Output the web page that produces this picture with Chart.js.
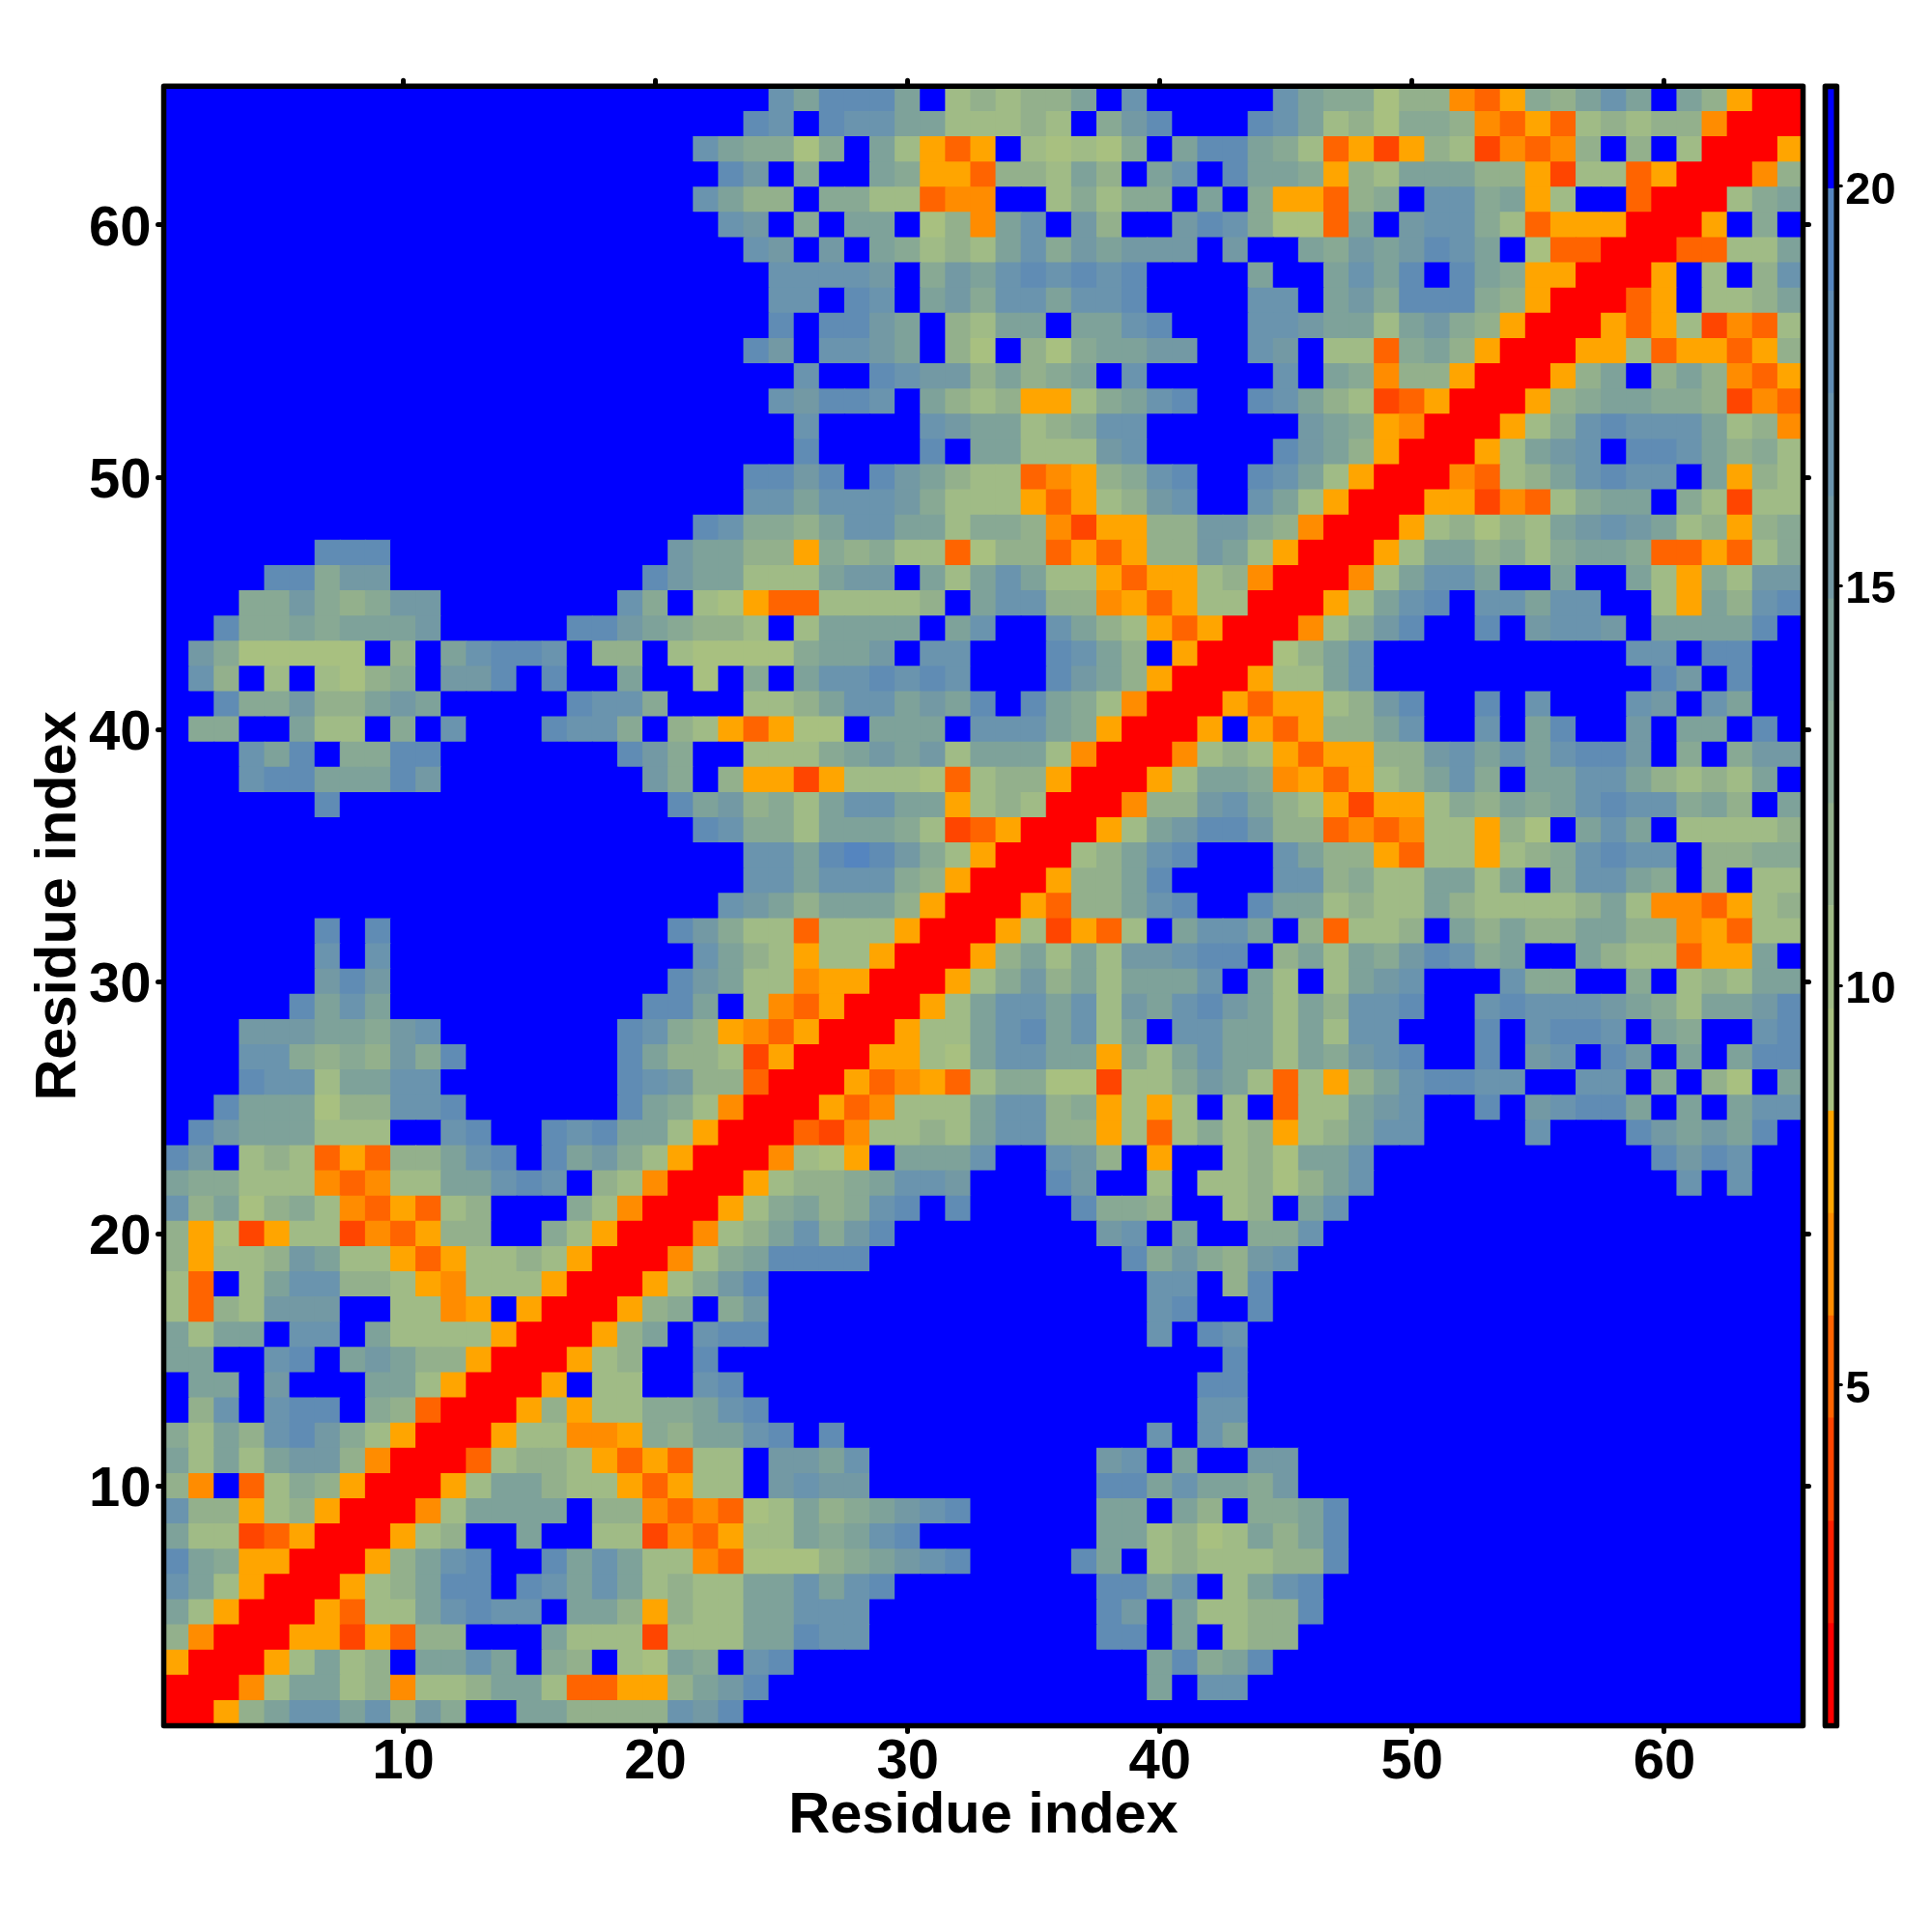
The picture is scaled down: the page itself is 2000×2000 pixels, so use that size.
<!DOCTYPE html>
<html>
<head>
<meta charset="utf-8">
<script src="https://cdn.jsdelivr.net/npm/chart.js@4/dist/chart.umd.min.js"></script>
<style>
  body { margin: 0; background: #fff; }
  canvas { position: absolute; top: 0; }
</style>
</head>
<body>
<canvas id="map" width="2000" height="2000" style="left:0"></canvas>
<canvas id="bar" width="140" height="2000" style="left:1860px"></canvas>
<script>
// one string per row, residue 65 first; each char is a colour band (hex index into bandColors)
const rows = [
  'ffffffffff ffffffffff ffffcaddda f78788afcf ffffca9968 843598acaf a8500',
  'ffffffffff ffffffffff fffdcfdcca a77787f9bd fffdca7869 9843537878 84000',
  'ffffffffff ffffffffff fca9969fa7 535f76769f adda973525 8724348f8f 70005',
  'ffffffffff ffffffffff ffdbf9ffa9 553887a8fa cfdaa9587a aa88527735 00048',
  'ffffffffff ffffffffff fca88f9977 344ff79799 faf955389f cc9a57ff30 0079a',
  'ffffffffff ffffffffff ffcbf9faaf 684acfb8ff bdc9663afb cc97355500 05f9f',
  'ffffffffff ffffffffff fffcbfbfa9 787ac9babb bfbffa9bab dcaf633000 3377a',
  'ffffffffff ffffffffff ffffccccbf 9bacdcdcdf fffaffacad fda9550005 f7f8c',
  'ffffffffff ffffffffff ffffccfdcf ab9ccaccdf fffccfab9d dd98500035 f778a',
  'ffffffffff ffffffffff ffffdfddba f87aafaacd fffccbaa7a b985000535 72437',
  'ffffffffff ffffffffff fffdbfccba f86f869aab bffcbf7739 a850005573 55358',
  'ffffffffff ffffffffff fffffcffdc bb8a89afcf ffffcfa948 8500058af8 a8435',
  'ffffffffff ffffffffff ffffcbddcf a8785579ac dffdca8723 5000589aa9 98243',
  'ffffffffff ffffffffff fffffcffff cbaa789ccf fffffba954 000579cdcc ca784',
  'ffffffffff ffffffffff fffffdffff dfaa777bcf ffffdba850 0057abcfdd ca897',
  'ffffffffff ffffffffff fffddbdfdb a87734589c dffdca7500 04378acdcc fa587',
  'ffffffffff ffffffffff fffccacccb 977753578b cffca75000 5524379aaf 97277',
  'ffffffffff ffffffffff fdc998acca a799842558 8bb9840005 78687abcba 78589',
  'ffffffdddf ffffffffff baa8859897 7368835358 8ba7500057 aa8979aa93 35379',
  'ffffdd9bbf fffffffffd baa777abbf a7aca77535 578400047a ccaffaffa7 597bb',
  'fff99b989b bfffffffc9 f765337777 8facc88453 57700057ac dfccaccff7 5a8cd',
  'ffd99a9aaa bfffffddba 9887f7aaaa facffca875 35000479bd ffdfbccbfa aaadf',
  'fb966666f8 facddcf88f 766669aabf ccfffdca8f 500068acff ffffffffcc fddff',
  'fc8f7f7689 fbbdfdffaf f6f9faccdc dcfffdba85 000577acff fffffffffd bfdff',
  'ffd99b88ab afffffdcc9 fff778acca badfda9740 00535578bd ffdfcfffcb fcaff',
  'f99ffa77f9 fcfffdcc9f 8753566faa afccca9500 05f53588ac ffcfadffbf aafdf',
  'fffcadf99d dfffffffdb 9ff7779aba b7aaa74000 4787535588 bcacacddbf 9f9bb',
  'fffcddaaad bffffffffb 9f85525777 6378850005 7aa9453578 ac9faacca8 787af',
  'ffffffdfff ffffffffff dab897acca a578700048 8bca875255 798a9acdcc 9a8fa',
  'ffffffffff ffffffffff fdc997aaa9 723500057a bddb883434 77586facaf 77778',
  'ffffffffff ffffffffff fffccadedb 97500078ac dfffca8853 775789cdcc f8899',
  'ffffffffff ffffffffff fffccaccc9 85000588ad ffffcc8977 aa7af9cca9 f8f77',
  'ffffffffff ffffffffff ffcba8aaa8 50005388ac dffdaa7877 a877778a74 43578',
  'ffffffdfdf ffffffffff db97737775 000572537f accaf83778 fa8a88aa88 45377',
  'ffffffcfcf ffffffffff fca8757750 0058a7a7bb cddf8a7a9b dc9affa877 355af',
  'ffffffbdbf ffffffffff dba7745500 0579b8a7aa acfa7f7abc fffc99ff9f 787aa',
  'fffffdacaf fffffffffd daf7435000 57accac7ba cdba7a8ccd ffcdcccba9 7aabd',
  'fffbbbaa9b cfffffffdc 9854350005 77acdac7af ccaa7a7ccf ffdfcddcfa 9ffcd',
  'fffcc9898b 9dffffffda 8872500055 76accaa597 acaa7a9bcd ffdfbcfdbf afadd',
  'fffdcc7aac cfffffffdc b883000534 5379966277 9ba73758ac ddccffccf9 f86fa',
  'ffdaaa688c cdffffffda 9740005347 77acc89575 7f7f377abc ffdfbcddaf afacc',
  'fdbaaa777f fcdffdcdaa 7500032477 87acc88573 7978578acc ffffcfffdb abadf',
  'dbf7873538 8acdfdab97 50004765fa aacffcb8f5 ff786aacff fffffffffd bdcff',
  'a997774347 7aacdcf874 00057889ac cbfffdbff7 f77868acff ffffffffff cfcff',
  'c8a6897435 378fff9740 00579a89cd fdffffd998 ff78facfff ffffffffff fffff',
  '8562577243 588ff97500 0478ac9bdf fffffffbcf aff99cffff ffffffffff fffff',
  '85778ba775 3577875000 479addddff ffffffffd9 b98bcfffff ffffffffff fffff',
  '73f7acc887 5477750005 79bdffffff fffffffffc cf8dffffff ffffffffff fffff',
  '7387bbbff7 745f500058 9f9bffffff fffffffffc dffdffffff ffffffffff fffff',
  'a7aafccfa7 777500058a fcddffffff fffffffffc fdcfffffff ffffffffff fffff',
  'aaffcdfaba 885000578f fdffffffff ffffffffff ffdfffffff ffffffffff fffff',
  'faafbfffaa 750005f77f fcdfffffff ffffffffff fddfffffff ffffffffff fffff',
  'f8cfcddf98 3000585779 9acdffffff ffffffffff fccfffffff ffffffffff fffff',
  '97a8cdb975 0005774459 8aacdfdfff fffffffffc fcafffffff ffffffffff fffff',
  'a7a7abb840 0037887535 377fbbacff fffffffbcf affbbfffff ffffffffff fffff',
  '84f3798500 057aa87753 577fbcbbff fffffffdda caa9bfffff ffffffffff fffff',
  'c885785000 47aaaaf884 34367a89ab cdfffffaaf a8f99adfff ffffffffff fffff',
  'a772350005 78ffaff772 43577a9acd fffffffaa7 867a8adfff ffffffffff fffff',
  'da95500058 acdffdaca7 74366689ab cdffffdaf7 877788dfff ffffffffff fffff',
  'ca75000578 addfdcaca7 877aacacdf fffffffdda cf7acdffff ffffffffff fffff',
  'a750005377 acdccfaa85 877aacccff fffffffdbf a7788dffff ffffffffff fffff',
  '8400055253 88fffa7772 777aadccff fffffffddf af788fffff ffffffffff fffff',
  '500057a78f aacaf98f76 a9fcdfffff fffffffffa d9adffffff ffffffffff fffff',
  '00047aa784 778aa73355 8abdffffff fffffffffa fccfffffff ffffffffff fffff',
  '0058accac8 b9ffaa8888 cbdfffffff ffffffffff ffffffffff ffffffffff fffff'
];
const bandColors = ['#ff0000', '#ff2000', '#ff4500', '#ff6400', '#ff8c00', '#ffa500',
  '#a8c080', '#a0bb86', '#93b08c', '#88a994', '#7ea29a', '#7399a4', '#6a94ae', '#608cb4', '#5585bf', '#0000ff'];
const bandEdges = [0.74, 2.02, 3.30, 4.59, 5.87, 7.15, 8.43, 9.71, 11.0, 12.28, 13.56, 14.84, 16.12, 17.41, 18.69, 19.97, 21.25];
const residueTicks = [10, 20, 30, 40, 50, 60];
const barTicks = [5, 10, 15, 20];
const axisLabel = 'Residue index';

const FONT = 'Liberation Sans';

const cells = [];
rows.forEach((row, r) => {
  const chars = row.replace(/ /g, '');
  if (chars.length !== 65) throw new Error('row ' + (65 - r) + ' has ' + chars.length);
  for (let c = 0; c < 65; c++) {
    cells.push({x: c + 1, y: 65 - r, band: parseInt(chars[c], 16)});
  }
});

const setTicks = values => scale => { scale.ticks = values.map(value => ({value})); };
const sized = (key, size) => scale => { scale[key] = size; };

// black box round the plot, and round caps for the little tick stubs
const framePlugin = {
  id: 'frame',
  beforeDraw(chart) {
    chart.ctx.lineCap = 'round';
  },
  afterDatasetsDraw(chart, args, opts) {
    const {ctx, chartArea: a} = chart;
    ctx.save();
    ctx.lineJoin = 'round';
    ctx.lineWidth = opts.width;
    ctx.strokeStyle = '#000';
    ctx.strokeRect(a.left, a.top, a.right - a.left, a.bottom - a.top);
    ctx.restore();
  }
};

const residueAxis = (position, size, extra) => Object.assign({
  position,
  type: 'linear',
  min: 0.5,
  max: 65.5,
  afterBuildTicks: setTicks(residueTicks),
  afterFit: sized(position === 'top' || position === 'bottom' ? 'height' : 'width', size),
  border: {display: false},
  grid: {drawOnChartArea: false, tickLength: 6, tickWidth: 5, tickColor: '#000'},
  ticks: {display: false}
}, extra);

const labelStyle = {
  display: true,
  color: '#000',
  autoSkip: false,
  maxRotation: 0,
  font: {family: FONT, weight: 'bold', size: 58}
};
const titleStyle = {
  display: true,
  text: axisLabel,
  color: '#000',
  font: {family: FONT, weight: 'bold', size: 59.5}
};

new Chart(document.getElementById('map'), {
  type: 'scatter',
  data: {
    datasets: [{
      data: cells,
      xAxisID: 'x',
      yAxisID: 'y',
      pointStyle: 'rect',
      // rect style draws a side of radius*sqrt(2); one px extra so no seams show between cells
      pointRadius: ctx => {
        const xs = ctx.chart.scales.x;
        return (xs.getPixelForValue(1) - xs.getPixelForValue(0) + 1) * Math.SQRT1_2;
      },
      backgroundColor: ctx => bandColors[ctx.raw.band],
      borderWidth: 0
    }]
  },
  options: {
    responsive: false,
    animation: false,
    events: [],
    layout: {padding: 0},
    plugins: {legend: {display: false}, tooltip: {enabled: false}, frame: {width: 5.5}},
    scales: {
      x: residueAxis('bottom', 213.5, {
        ticks: {...labelStyle, padding: -2.5},
        title: {...titleStyle, padding: {top: 0, bottom: 84}}
      }),
      xTop: residueAxis('top', 89.3),
      y: residueAxis('left', 169.5, {
        ticks: {...labelStyle, padding: 7, labelOffset: 5},
        title: {...titleStyle, padding: {top: 26, bottom: 0}}
      }),
      yRight: residueAxis('right', 133.5)
    }
  },
  plugins: [framePlugin]
});

new Chart(document.getElementById('bar'), {
  type: 'bar',
  data: {
    labels: ['band'],
    datasets: bandColors.map((color, i) => ({
      data: [[bandEdges[i], bandEdges[i + 1]]],
      backgroundColor: color,
      grouped: false,
      barPercentage: 1,
      categoryPercentage: 1
    }))
  },
  options: {
    responsive: false,
    animation: false,
    events: [],
    layout: {padding: {left: 29.5, top: 89.3, bottom: 213.5, right: 0}},
    plugins: {legend: {display: false}, tooltip: {enabled: false}, frame: {width: 5.7}},
    scales: {
      x: {display: false},
      y: {
        position: 'right',
        min: bandEdges[0],
        max: bandEdges[bandEdges.length - 1],
        afterBuildTicks: setTicks(barTicks),
        afterFit: sized('width', 98.7),
        border: {display: false},
        grid: {drawOnChartArea: false, tickLength: 5, tickWidth: 3, tickColor: '#000'},
        ticks: {
          color: '#000',
          padding: 4,
          labelOffset: 5,
          autoSkip: false,
          font: {family: FONT, weight: 'bold', size: 47}
        }
      }
    }
  },
  plugins: [framePlugin]
});
</script>
</body>
</html>
